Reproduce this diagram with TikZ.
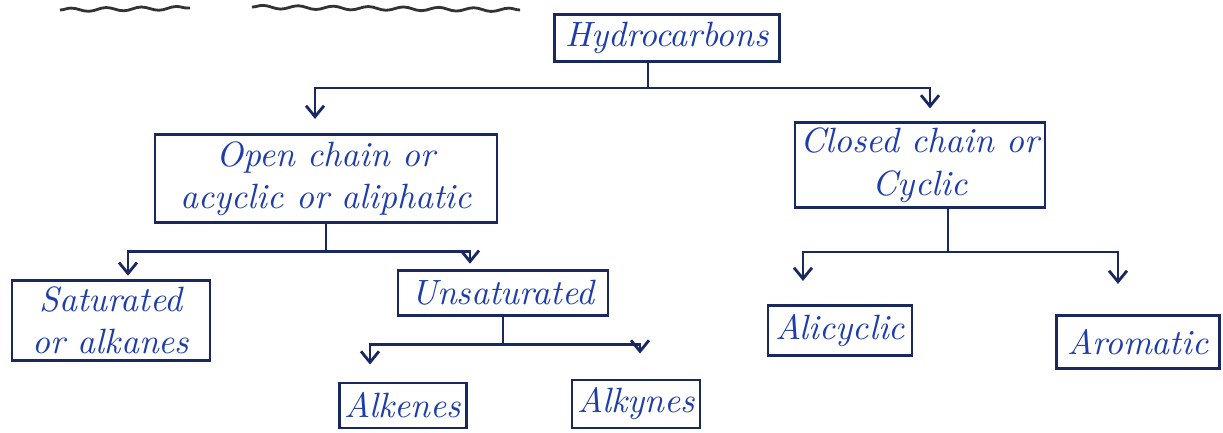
\documentclass[tikz,border=0pt]{standalone}
\usepackage{xcolor}
\usetikzlibrary{positioning,arrows.meta,decorations.pathmorphing}
\definecolor{ink}{RGB}{30,60,170}
\definecolor{pen}{RGB}{25,40,95}

\begin{document}
\begin{tikzpicture}[
  font=\fontsize{10}{12}\selectfont\itshape,
  box/.style={draw=pen, thick, align=center, text=ink, inner sep=1.5pt},
  arr/.style={-{Straight Barb[length=1.1mm, width=1.8mm]}, thick, draw=pen},
  squig/.style={draw=black!80, thick, decorate,
                decoration={snake, amplitude=0.5pt, segment length=10pt}},
]
\useasboundingbox (0,0) rectangle (12.23,-4.32);
% underlines left over from the line above
\draw[squig] (0.6,-0.1) -- (1.9,-0.08);
\draw[squig] (2.52,-0.07) -- (5.2,-0.1);

\node[box, minimum width=2.25cm, minimum height=0.47cm] (hc) at (6.67,-0.38) {Hydrocarbons};
\node[box, minimum width=3.42cm, minimum height=0.88cm, below=0.7cm of hc, xshift=-3.41cm] (open) {Open chain or\\ acyclic or aliphatic};
\node[box, minimum width=2.45cm, minimum height=0.8cm, below=0.585cm of hc, xshift=2.53cm] (closed) {Closed chain or\\ Cyclic};
\node[box, minimum width=1.98cm, minimum height=0.8cm, below=0.55cm of open, xshift=-2.15cm] (sat) {Saturated\\ or alkanes};
\node[box, minimum width=2.1cm, minimum height=0.45cm, below=0.45cm of open, xshift=1.77cm] (unsat) {Unsaturated};
\node[box, minimum width=1.27cm, minimum height=0.45cm, below=0.65cm of unsat, xshift=-1cm] (alkene) {Alkenes};
\node[box, minimum width=1.13cm, minimum height=0.48cm, below=0.62cm of unsat, xshift=1.33cm] (alkyne) {Alkynes};
\node[box, minimum width=1.44cm, minimum height=0.5cm, below=0.95cm of closed, xshift=-0.8cm] (alicyc) {Alicyclic};
\node[box, minimum width=1.63cm, minimum height=0.53cm, below=1.05cm of closed, xshift=2.18cm] (arom) {Aromatic};

% branch points
\coordinate (hcj) at ([xshift=-0.19cm, yshift=-0.25cm]hc.south);
\coordinate (oj) at ([yshift=-0.28cm]open.south);
\coordinate (uj) at ([yshift=-0.28cm]unsat.south);
\coordinate (cj) at ([xshift=0.28cm, yshift=-0.43cm]closed.south);

\draw[arr] ([xshift=-0.19cm]hc.south) -- (hcj) -| ([xshift=-0.11cm, yshift=0.14cm]open.north);
\draw[arr] (hcj) -| ([xshift=0.1cm, yshift=0.13cm]closed.north);
\draw[arr] (open.south) -- (oj) -| ([xshift=0.17cm, yshift=0.03cm]sat.north);
\draw[arr] (oj) -| ([xshift=-0.33cm, yshift=0.05cm]unsat.north);
\draw[arr] (unsat.south) -- (uj) -| ([xshift=-0.33cm, yshift=0.17cm]alkene.north);
\draw[arr] (uj) -| ([xshift=0.04cm, yshift=0.25cm]alkyne.north);
\draw[arr] ([xshift=0.28cm]closed.south) -- (cj) -| ([xshift=-0.37cm, yshift=0.23cm]alicyc.north);
\draw[arr] (cj) -| ([xshift=-0.2cm, yshift=0.3cm]arom.north);
\end{tikzpicture}
\end{document}
